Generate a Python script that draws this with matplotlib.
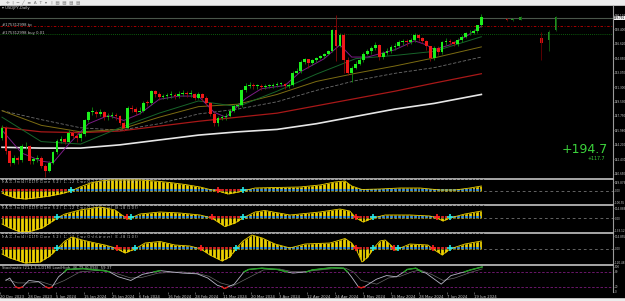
import numpy as np
import matplotlib.pyplot as plt
from matplotlib.patches import Rectangle
from matplotlib.transforms import blended_transform_factory

W, H = 625, 301

# ---------------- daily candles (USDJPY) ----------------
first_open = 145.0
closes = [146.3, 143.4, 142.0, 142.6, 142.3, 144.0, 144.1, 142.2, 142.4, 142.6,
          141.6, 141.0, 142.0, 143.3, 144.7, 144.9, 144.6, 145.7, 145.3, 145.0,
          145.5, 147.2, 148.2, 148.3, 148.0, 148.2, 147.6, 147.8, 147.9, 147.7,
          146.9, 146.3, 148.7, 148.6, 148.3, 148.4, 149.4, 149.3, 150.8, 150.5,
          150.1, 150.2, 150.3, 150.35, 150.2, 150.4, 150.5, 150.4, 150.5, 150.0,
          150.4, 150.0, 149.3, 148.0, 146.9, 147.5, 147.6, 147.8, 148.4, 149.0,
          149.1, 150.9, 151.5, 151.6, 151.4, 151.45, 151.3, 151.4, 151.45, 151.6,
          151.65, 151.7, 151.4, 151.6, 153.1, 153.3, 154.4, 154.7, 154.3, 154.6,
          154.9, 155.1, 155.4, 155.8, 158.3, 156.4, 157.7, 154.6, 153.0, 153.7,
          154.2, 154.6, 155.4, 155.7, 156.1, 156.5, 155.0, 155.5, 155.8, 156.2,
          156.4, 156.8, 156.9, 156.8, 157.1, 157.7, 157.3, 157.0, 156.3, 154.9,
          156.1, 155.6, 156.8, 157.0, 156.8, 156.6, 157.1, 157.5, 157.9, 158.0,
          158.2, 158.9, 159.9]
highs = [146.6, 146.5, 143.6, 142.9, 142.8, 144.3, 144.5, 144.2, 142.7, 142.9,
         142.8, 141.8, 142.2, 143.5, 144.9, 145.3, 145.1, 146.0, 146.0, 145.6,
         145.8, 147.4, 148.4, 148.8, 148.5, 148.6, 148.4, 148.1, 148.3, 148.1,
         147.9, 147.1, 149.0, 149.1, 148.9, 148.8, 149.6, 149.7, 150.9, 150.9,
         150.7, 150.5, 150.6, 150.8, 150.6, 150.8, 150.9, 150.8, 150.9, 150.6,
         150.7, 150.6, 150.2, 149.5, 148.2, 147.7, 147.9, 148.1, 148.6, 149.2,
         149.4, 151.1, 151.8, 151.9, 151.8, 151.7, 151.7, 151.7, 151.7, 151.8,
         151.9, 151.9, 151.8, 151.8, 153.3, 153.6, 154.6, 154.9, 154.8, 154.8,
         155.0, 155.3, 155.5, 155.9, 158.4, 160.2, 157.9, 157.9, 155.0, 153.9,
         154.5, 155.0, 155.6, 156.0, 156.4, 156.8, 156.6, 155.8, 156.1, 156.5,
         156.7, 157.1, 157.2, 157.2, 157.4, 157.9, 157.8, 157.5, 157.1, 156.4,
         156.3, 156.4, 157.0, 157.3, 157.2, 157.0, 157.3, 157.7, 158.1, 158.3,
         158.4, 159.0, 160.3]
lows = [144.8, 143.1, 141.6, 141.8, 141.9, 142.1, 143.7, 141.9, 141.9, 142.1,
        141.3, 140.3, 140.8, 141.8, 143.1, 144.4, 144.3, 144.4, 145.0, 144.6,
        144.7, 145.3, 147.0, 147.9, 147.6, 147.7, 147.2, 147.3, 147.5, 147.2,
        146.6, 145.9, 146.1, 148.2, 147.9, 148.0, 148.2, 149.0, 149.1, 150.1,
        149.7, 149.9, 149.9, 150.0, 149.9, 150.0, 150.2, 150.1, 150.1, 149.7,
        149.8, 149.6, 149.0, 147.8, 146.5, 146.5, 147.2, 147.3, 147.6, 148.2,
        148.7, 148.9, 150.7, 151.2, 151.1, 151.1, 151.0, 151.1, 151.2, 151.2,
        151.3, 151.4, 151.1, 151.2, 151.5, 152.9, 153.1, 154.1, 153.6, 154.0,
        154.4, 154.7, 154.9, 155.2, 155.6, 154.5, 156.2, 153.0, 152.8, 151.9,
        153.5, 154.0, 154.4, 155.2, 155.4, 155.9, 154.6, 154.7, 155.2, 155.5,
        155.9, 156.2, 156.5, 156.4, 156.6, 156.9, 157.0, 156.7, 155.9, 154.5,
        154.6, 155.3, 155.4, 156.5, 156.5, 156.3, 156.4, 156.9, 157.3, 157.7,
        157.8, 158.0, 158.7]

# stray bars drawn right of the last candle
ghost_idx = [128.5, 130, 132, 137.3, 139.2, 141]
ghost_open = [159.7, 159.5, 159.6, 157.3, 157.1, 158.3]
ghost_close = [159.5, 159.7, 159.9, 156.7, 158.1, 159.9]
ghost_high = [159.8, 159.8, 160.0, 158.1, 158.3, 160.0]
ghost_low = [159.4, 159.4, 159.5, 154.6, 155.8, 158.2]

# moving averages (sampled)
ma_idx = [0, 10, 20, 30, 40, 50, 60, 70, 80, 90, 100, 110, 122]
ma_white = [143.9, 143.8, 143.8, 144.2, 144.8, 145.4, 145.8, 146.1, 146.8, 147.7, 148.6, 149.3, 150.4]
ma_red = [146.35, 145.8, 145.7, 145.9, 146.5, 147.1, 147.6, 148.1, 149.0, 149.9, 150.8, 151.8, 152.95]
ma_gray = [148.4, 147.3, 146.3, 146.0, 146.8, 148.0, 148.6, 149.5, 150.9, 152.1, 153.0, 153.7, 155.0]
ma_olive = [148.4, 146.6, 145.8, 146.1, 147.6, 148.9, 149.2, 150.4, 152.0, 153.0, 153.9, 154.9, 156.25]
ma_green = [147.6, 144.6, 144.3, 146.3, 148.1, 149.6, 148.9, 150.8, 152.9, 154.8, 155.2, 155.7, 157.5]
fast_idx = [0, 5, 10, 13, 17, 22, 27, 31, 35, 40, 45, 50, 54, 57, 62, 66, 72, 76, 82, 86,
            89, 93, 100, 105, 108, 110, 114, 118, 122]
fast_vals = [146.0, 143.2, 142.2, 142.0, 144.3, 146.8, 147.8, 147.2, 148.0, 149.8, 150.2,
             150.2, 148.2, 147.6, 149.9, 151.1, 151.5, 153.2, 154.8, 156.5, 155.0, 155.0,
             155.9, 157.0, 156.5, 155.9, 156.5, 157.5, 158.8]

price_ticks = [160.170, 158.400, 156.620, 154.850, 153.070, 151.300, 149.530,
               147.750, 145.980, 144.200, 142.430, 140.650]
bid_price = 159.79
tp_price = 158.81
entry_price = 157.82

# ---------------- MACD-style panels ----------------
m1_idx = [0, 1, 3.3, 5.9, 8.4, 12.2, 15.3, 17.6, 19.8, 22.5, 25, 27.5, 31.3, 35.1, 38.9,
          42.7, 46.6, 50.4, 52.9, 55, 57.5, 59.5, 61.3, 64.4, 69.5, 75.8, 80.9, 84.7, 87.3,
          89, 91.6, 96.2, 101.3, 106.4, 111.5, 115.3, 119.1, 122]
m1_val = [-0.2, -0.4, -0.7, -0.8, -0.7, -0.5, -0.25, 0, 0.4, 0.8, 1.0, 1.1, 1.1, 1.1, 1.0,
          0.85, 0.65, 0.4, 0.15, 0, -0.3, -0.15, 0, 0.3, 0.35, 0.4, 0.6, 0.9, 1.0,
          0.5, 0.15, 0.2, 0.3, 0.3, 0.1, 0.1, 0.3, 0.5]
m2_idx = [0, 2, 4.6, 7.1, 10.2, 12.2, 14, 16, 19.8, 25, 28.8, 30.5, 31.8, 32.3, 32.8, 35.1,
          40.2, 45.3, 50.4, 53.4, 56.7, 59.3, 61.3, 64.4, 66.9, 73.3, 80.9, 86, 88.5, 90.1,
          91.9, 94.4, 97.5, 103.8, 108.9, 110.7, 112.2, 114, 117.8, 122]
m2_val = [-0.6, -1.0, -1.4, -1.35, -1.0, -0.5, 0, 0.4, 0.8, 1.1, 0.8, 0.3, 0, -0.1, 0, 0.4,
          0.6, 0.5, 0.3, 0, -0.85, -0.5, 0, 0.6, 0.75, 0.3, 0.6, 0.9, 0.7, 0,
          -0.4, 0, 0.3, 0.3, 0.2, 0, -0.3, 0, 0.4, 0.7]
m3_idx = [0, 2, 5.9, 9.7, 12.2, 14, 16, 17.8, 20.4, 23.7, 26.2, 28, 29.3, 31.3, 33.8, 36.4,
          40.2, 44, 47.8, 50.6, 52.9, 56, 58, 59.5, 61.3, 63.6, 66.2, 69.5, 73.3, 77.1, 83.5,
          87.3, 89, 90.1, 91.6, 93.1, 94.4, 96.2, 97.5, 99.2, 99.7, 100.2, 100.8, 103.8,
          108.4, 109.7, 112, 114, 117.8, 122]
m3_val = [-0.5, -0.9, -1.4, -1.3, -0.7, 0, 0.8, 1.2, 0.9, 0.6, 0.4, 0.2, 0, -0.4, 0, 0.6,
          0.75, 0.4, 0.3, 0, -0.6, -1.2, -0.8, 0, 0.8, 1.4, 1.1, 0.5, 0.1, 0.5, 0.6,
          1.05, 0.6, 0, -1.3, -0.8, 0, 0.8, 0.9, 0.3, 0, -0.1, 0, 0.5,
          0.4, 0, -0.6, 0, 0.5, 0.8]

# ---------------- stochastic ----------------
k_idx = [0, 1, 2.5, 3.3, 4.2, 5.9, 8.4, 10.2, 11, 11.8, 13.5, 15, 15.6, 19.8, 25, 26.5,
         28.8, 32, 35, 38, 39.5, 45.3, 49, 51.7, 54.2, 55.4, 56, 56.8, 58.5, 61, 62.2, 65.6,
         69.5, 72, 73.5, 77, 78.5, 83.5, 86.5, 87.5, 88.5, 90.3, 91, 91.8, 94.9, 97.5, 100,
         102, 102.8, 105, 106.5, 107.6, 111.5, 114, 117.5, 119, 122]
k_vals = [45, 55, 19, 14, 18, 45, 40, 19, 14, 18, 60, 80, 90, 93, 85, 80, 60, 45, 70, 80,
          85, 75, 72, 55, 25, 19, 12, 18, 30, 80, 90, 95, 90, 80, 75, 80, 88, 97, 95, 80,
          60, 19, 15, 19, 50, 65, 60, 80, 90, 95, 80, 75, 30, 65, 80, 88, 100]
d_idx = [0, 3, 6, 9, 12, 15, 19, 25, 29, 32, 35, 39, 45, 49, 52, 55, 58, 62, 66, 70, 73, 77,
         83, 87, 89, 91, 95, 98, 101, 104, 106, 109, 112, 115, 119, 122]
d_vals = [50, 35, 35, 40, 25, 45, 80, 88, 70, 55, 58, 75, 80, 74, 62, 35, 22, 55, 88, 92, 82,
          82, 92, 95, 80, 45, 30, 55, 62, 80, 88, 70, 45, 55, 78, 92]

date_pos = [-1.5, 5.6, 12.8, 19.9, 27.1, 34.2, 41.4, 48.5, 55.7, 62.8, 70.0, 77.1, 84.3,
            91.4, 98.6, 105.7, 112.9, 120.0]
date_labels = ["20 Dec 2023", "28 Dec 2023", "5 Jan 2024", "15 Jan 2024", "25 Jan 2024",
               "6 Feb 2024", "16 Feb 2024", "28 Feb 2024", "11 Mar 2024", "20 Mar 2024",
               "3 Apr 2024", "12 Apr 2024", "24 Apr 2024", "3 May 2024", "15 May 2024",
               "28 May 2024", "7 Jun 2024", "19 Jun 2024"]

TXT = '#c8c8c8'
FS = 2.7
YFS = 2.0
XLIM = (-0.51, 155.5)

fig = plt.figure(figsize=(W / 100, H / 100), dpi=100, facecolor='#ececec')
fig.patches.append(Rectangle((0, 4 / H), 1, (H - 10) / H, transform=fig.transFigure,
                             color='black', zorder=-10))
fig.text(0.01, 1 - 2.5 / H, u"\u271b  |  \u2500  \u2571  \u2261  A  T  \u25be   |  \u25a4  \u25a4  \u25a4  \u25a4",
         fontsize=3.2, color='#707070', va='center')


def panel(top, bot):
    ax = fig.add_axes([0, 1 - bot / H, 613 / W, (bot - top) / H])
    ax.set_zorder(1)
    ax.set_facecolor('black')
    for s in ['left', 'bottom']:
        ax.spines[s].set_visible(False)
    ax.spines['top'].set_color('#b4b4b4')
    ax.spines['top'].set_linewidth(1.3)
    ax.spines['right'].set_color('#9a9a9a')
    ax.spines['right'].set_linewidth(0.8)
    ax.yaxis.tick_right()
    ax.tick_params(axis='y', labelsize=YFS, colors='#9a9a9a', labelcolor=TXT,
                   length=1.0, width=0.4, pad=0.3)
    ax.set_xticks([])
    ax.set_xlim(*XLIM)
    return ax


# ---------------- main chart ----------------
ax = panel(6, 179)
ax.spines['top'].set_visible(False)
ax.set_ylim(140.0, 161.28)
ax.set_yticks(price_ticks)
ax.set_yticklabels(['%.3f' % p for p in price_ticks])

ax.axhline(bid_price, color='#4a564a', lw=0.8, zorder=1)
ax.axhline(tp_price, color='#c00000', lw=0.6, ls=(0, (3, 2, 1, 2)), zorder=1)
ax.axhline(entry_price, color='#0f7a0f', lw=0.6, ls=(0, (1, 1.5)), zorder=1)

ax.plot(ma_idx, ma_white, color='#e6e6e6', lw=1.2, zorder=2)
ax.plot(ma_idx, ma_red, color='#a81818', lw=0.9, zorder=2)
ax.plot(ma_idx, ma_gray, color='#6e6e6e', lw=0.6, ls=(0, (4, 2)), zorder=2)
ax.plot(ma_idx, ma_olive, color='#7c6c12', lw=0.7, zorder=2)
ax.plot(ma_idx, ma_green, color='#17652a', lw=0.7, zorder=2)
ax.plot(fast_idx, fast_vals, color='#7c1c86', lw=0.7, zorder=2)

c = np.array(closes)
o = np.array([first_open] + closes[:-1])
hi = np.array(highs)
lo = np.array(lows)
x = np.arange(len(c))
up = c >= o
body = np.maximum(np.abs(c - o), 0.12)
ax.vlines(x[up], lo[up], hi[up], color='#0c8c0c', lw=0.6, zorder=3)
ax.vlines(x[~up], lo[~up], hi[~up], color='#8a0a0a', lw=0.6, zorder=3)
ax.bar(x[up], body[up], bottom=o[up], width=0.7, color='#1cf01c', lw=0, zorder=4)
ax.bar(x[~up], body[~up], bottom=c[~up], width=0.7, color='#f01818', lw=0, zorder=4)

go = np.array(ghost_open)
gc = np.array(ghost_close)
gx = np.array(ghost_idx)
gup = gc >= go
ax.vlines(gx, ghost_low, ghost_high, color=np.where(gup, '#105a10', '#6a0000'), lw=0.6)
ax.bar(gx, np.abs(gc - go), bottom=np.minimum(go, gc), width=0.7,
       color=np.where(gup, '#229022', '#d01010'), lw=0)

tr = blended_transform_factory(ax.transAxes, ax.transData)
ax.text(1.002, bid_price, '%.3f' % (bid_price + 0.001), transform=tr, fontsize=YFS,
        color='black', va='center', clip_on=False,
        bbox=dict(boxstyle='square,pad=0.1', fc='#f0f0f0', ec='none'))
ax.text(0.004, 0.987, u"\u25be USDJPY,Daily", transform=ax.transAxes, fontsize=FS,
        color=TXT, va='center')
ax.text(0.003, tp_price + 0.15, "#175312998 tp", transform=tr, fontsize=FS,
        color=TXT, va='center')
ax.text(0.003, entry_price + 0.15, "#175312998 buy 0.01", transform=tr, fontsize=FS,
        color=TXT, va='center')
ax.text(0.992, 0.168, "+194.7", transform=ax.transAxes, fontsize=9, color='#3cd23c',
        ha='right', va='center')
ax.text(0.987, 0.118, "+117.7", transform=ax.transAxes, fontsize=3.4, color='#3cd23c',
        ha='right', va='center')

# ---------------- MACD panels ----------------
macd = [
    (179, 205, (-1.4, 1.2), m1_idx, m1_val, ['149.876', '0.00', '-100.55'],
     "MACD-Pro(4) (D1M) Close  5.20  11.22  CrossOnly(Arrows)  71.27 (0.96)"),
    (205, 233, (-1.5, 1.3), m2_idx, m2_val, ['114.889', '0.00', '-133.12'],
     "MACD-Pro(4) (D1M) Close  5.20  11.22  CrossOnly(Arrows)  46.28 (1.02)"),
    (233, 265, (-1.6, 1.6), m3_idx, m3_val, ['114.855', '0.00', '-120.48'],
     "MACD-Pro(4) (D1M) Close  5.20  11.22  CrossOnly(Arrows)  33.48 (1.02)"),
]
for top, bot, lim, idx, val, labs, title in macd:
    a = panel(top, bot)
    a.set_ylim(*lim)
    a.set_yticks([lim[1] - 0.3, 0, lim[0] + 0.2])
    a.set_yticklabels(labs)
    idx = np.array(idx)
    val = np.array(val)
    a.axhline(0, color='#8a8a8a', lw=0.5, ls=(0, (4, 4)), zorder=1)
    a.fill_between(idx, val, 0, color='#ecd000', lw=0, zorder=2)
    a.fill_between(idx, 0, 0.2, where=val >= 0, color='#3b8ed8', lw=0, zorder=3)
    a.fill_between(idx, 0, 0.2, where=val <= 0, color='#d42222', lw=0, zorder=3)
    a.vlines(np.arange(-1, 123) + 0.5, lim[0], lim[1], color='black', lw=0.9, zorder=4)
    a.plot(idx, val, color='#ecd000', lw=0.6, zorder=5)
    for j in range(len(val) - 1):
        if val[j] == 0 and j > 0:
            col = '#22e6e6' if val[j + 1] > 0 else '#ff2020'
            a.plot(idx[j], 0.1, marker='+', ms=4, mew=1.2, color=col, zorder=6)
    a.text(0.003, 0.88, title, transform=a.transAxes, fontsize=FS, color=TXT, va='center')

# ---------------- stochastic ----------------
s = panel(265, 292)
s.set_ylim(-2, 108)
s.set_yticks([100, 80, 20, 0])
s.set_yticklabels(['100', '80', '20', '0'])
for lvl in (80, 20):
    s.axhline(lvl, color='#7a1a7a', lw=0.6, ls=(0, (3, 2)), zorder=1)
kv = np.array(k_vals, dtype=float)
s.plot(d_idx, d_vals, color='#686868', lw=0.5, zorder=2)
s.plot(k_idx, kv, color='#b8b8c8', lw=0.6, zorder=3)
s.plot(k_idx, np.where(kv >= 80, kv, np.nan), color='#22a022', lw=1.0, zorder=4)
s.plot(k_idx, np.where(kv <= 20, kv, np.nan), color='#e01818', lw=1.0, zorder=4)
s.text(0.003, 0.9, "Stochastic (21,1,3,1,D1M) Low/High  46.79 (0.094)  59.37",
       transform=s.transAxes, fontsize=FS, color=TXT, va='center')
s.set_xticks(date_pos)
s.set_xticklabels(date_labels, ha='left')
s.tick_params(axis='x', labelsize=FS, colors='#9a9a9a', labelcolor=TXT,
              length=1.5, width=0.4, pad=0.8)

fig.savefig('out.png', dpi=100, facecolor=fig.get_facecolor())
